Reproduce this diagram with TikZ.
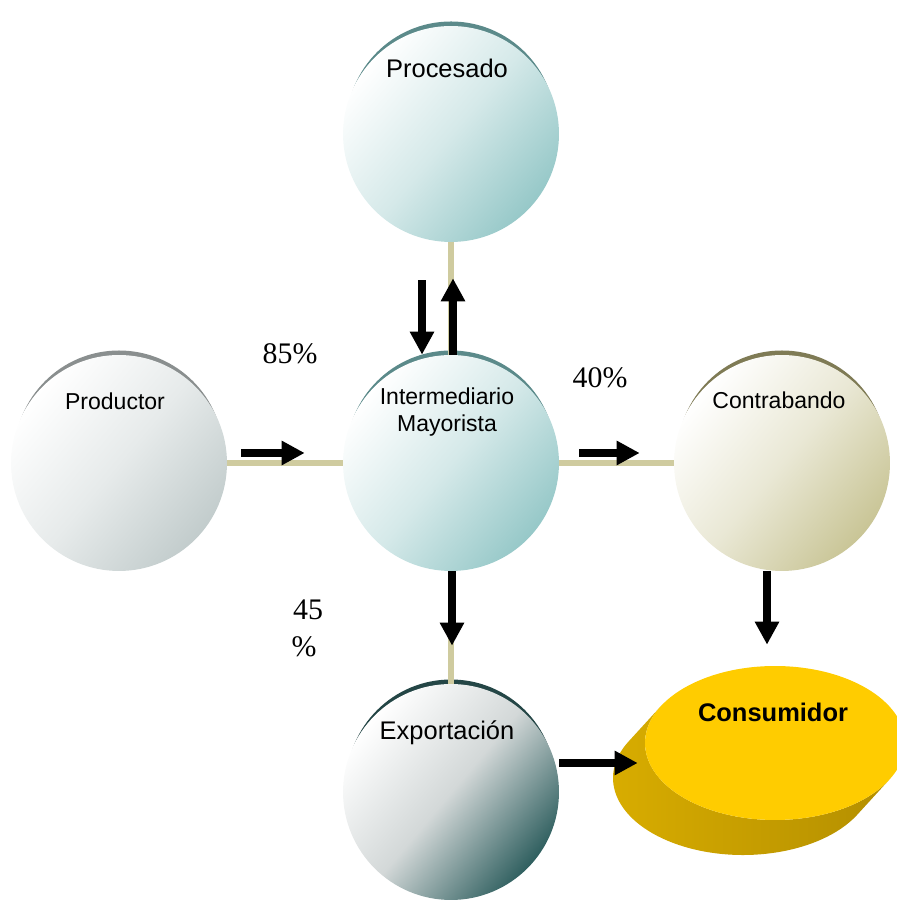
\documentclass[tikz,border=0pt]{standalone}
\usepackage{fontspec}
\setmainfont{Liberation Serif}
\setsansfont{Liberation Sans}
\usepackage{tikz}
\usetikzlibrary{arrows.meta,positioning,calc,shapes.geometric,backgrounds}
\definecolor{linktan}{HTML}{CFCB9F}
\definecolor{tealdeep}{HTML}{96C8C8}
\definecolor{tealdark}{HTML}{5B8A8A}
\definecolor{greydeep}{HTML}{C2CCCC}
\definecolor{greydark}{HTML}{8A8F8F}
\definecolor{olivedeep}{HTML}{C9C596}
\definecolor{olivedark}{HTML}{7F7B55}
\definecolor{slatemid}{HTML}{D3D8D8}
\definecolor{slatedeep}{HTML}{2F5F5F}
\definecolor{slatedark}{HTML}{244646}
\definecolor{consgold}{HTML}{FFCC00}
\definecolor{goldlight}{HTML}{DAAE00}
\definecolor{golddark}{HTML}{8E6E00}
\definecolor{goldright}{HTML}{B48F00}

\begin{document}
\begin{tikzpicture}[x=0.02cm, y=0.02cm,
  ball/.style={circle, minimum size=4.32cm, inner sep=0pt},
  tealball/.style={ball, top color=white, bottom color=tealdeep, middle color=tealdeep!40!white, shading angle=50},
  greyball/.style={ball, top color=white, bottom color=greydeep, middle color=greydeep!40!white, shading angle=50},
  oliveball/.style={ball, top color=white, bottom color=olivedeep, middle color=olivedeep!40!white, shading angle=50},
  slateball/.style={ball, top color=white, bottom color=slatedeep, middle color=slatemid, shading angle=50},
  consface/.style={ellipse, fill=consgold, minimum width=5.2cm, minimum height=3.08cm, inner sep=0pt},
  lbl/.style={font=\sffamily\fontsize{13.1}{15.5}\selectfont, align=center, inner sep=0pt},
  biglbl/.style={font=\sffamily\fontsize{14.5}{17}\selectfont, inner sep=0pt},
  pct/.style={font=\fontsize{17}{20}\selectfont, inner sep=0pt},
  link/.style={draw=linktan, line width=0.11cm},
  bigarr/.style={-{Triangle[width=0.46cm,length=0.46cm]}, line width=0.16cm}
]
  \useasboundingbox (0,0) rectangle (896,901);

  % circles
  \node[tealball]  (proc)   at (451,767) {};
  \node[tealball]  (inter)  at (451,438) {};
  \node[greyball]  (prod)   at (119,438) {};
  \node[oliveball] (contra) at (782,438) {};
  \node[slateball] (expo)   at (451,109) {};
  \node[consface]  (cons)   at (775,158) {};

  \begin{pgfonlayer}{background}
    \fill[tealdark]  ($(proc.center)+(0,8)$)   circle (104.5);
    \fill[tealdark]  ($(inter.center)+(0,8)$)  circle (104.5);
    \fill[greydark]  ($(prod.center)+(0,8)$)   circle (104.5);
    \fill[olivedark] ($(contra.center)+(0,8)$) circle (104.5);
    \fill[slatedark] ($(expo.center)+(0,8)$)   circle (104.5);
    % side of the disk
    \shade[left color=goldlight, middle color=golddark, right color=goldright]
      ($(cons.center)+(150.6:130 and 77)$) -- ++(-32,-35)
      arc[start angle=150.6, end angle=330.6, x radius=130, y radius=77]
      -- ($(cons.center)+(330.6:130 and 77)$)
      arc[start angle=330.6, end angle=150.6, x radius=130, y radius=77] -- cycle;
  \end{pgfonlayer}

  % texts
  \node[biglbl] (proc-t)   at (447,833) {Procesado};
  \node[lbl]    (inter-t)  at (447,489) {Intermediario\\Mayorista};
  \node[lbl]    (prod-t)   at (115,500) {Productor};
  \node[lbl]    (contra-t) at (779,501) {Contrabando};
  \node[biglbl] (expo-t)   at (447,168) {Exportación};
  \node[biglbl, font=\sffamily\bfseries\fontsize{14.5}{17}\selectfont] (cons-t) at (773,189) {Consumidor};

  \node[pct] (p85)  at (290,547) {85\%};
  \node[pct] (p40)  at (600,523) {40\%};
  \node[pct] (p45)  at (308,291) {45};
  \node[pct] (p45b) at (304,254) {\%};

  % links
  \draw[link] (prod) -- (inter);
  \draw[link] (inter) -- (contra);
  \draw[link] (proc) -- (inter);
  \draw[link] (inter) -- (expo);

  % flows
  \coordinate (c-out) at ([xshift=-0.3cm]contra.south);
  \coordinate (e-out) at ([yshift=0.58cm]expo.east);
  \draw[bigarr, shorten <=0.28cm, shorten >=0.76cm] ([yshift=0.2cm]prod.east) -- ([yshift=0.2cm]inter.west);
  \draw[bigarr, shorten <=0.4cm, shorten >=0.68cm] ([yshift=0.2cm]inter.east) -- ([yshift=0.2cm]contra.west);
  \draw[bigarr, shorten <=0.76cm] ([xshift=-0.58cm]proc.south) -- ([xshift=-0.58cm]inter.north);
  \draw[bigarr, shorten >=0.72cm] ([xshift=0.04cm]inter.north) -- ([xshift=0.04cm]proc.south);
  \draw[bigarr, shorten >=0.76cm] ([xshift=0.02cm]inter.south) -- ([xshift=0.02cm]expo.north);
  \draw[bigarr, shorten >=0.42cm] (c-out) -- (c-out |- cons.north);
  \draw[bigarr, shorten >=0.14cm] (e-out) -- (e-out -| cons.west);
\end{tikzpicture}
\end{document}
